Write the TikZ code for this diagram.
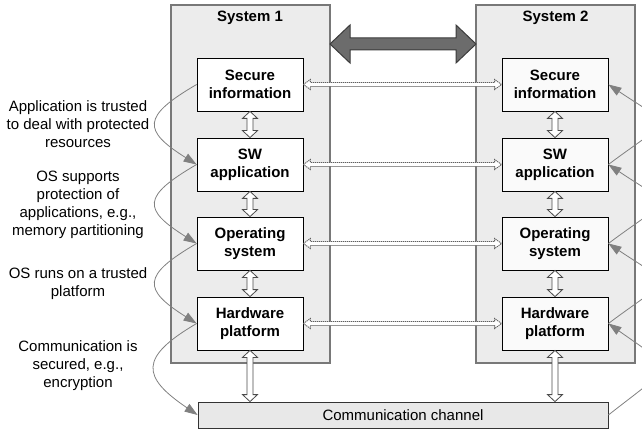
\documentclass[tikz,border=0pt]{standalone}
\usepackage{fontspec}
\setmainfont{Liberation Sans}
\usetikzlibrary{calc,arrows.meta}

\definecolor{panelfill}{RGB}{236,236,236}
\definecolor{panelline}{RGB}{120,120,120}
\definecolor{chanfill}{RGB}{232,232,232}
\definecolor{bigfill}{RGB}{108,108,108}
\definecolor{bigline}{RGB}{60,60,60}
\definecolor{curvegray}{RGB}{128,128,128}
\definecolor{dotgray}{RGB}{95,95,95}

\tikzset{
  txt/.style={font=\fontsize{15}{18}\selectfont, align=center},
  panel/.style={draw=panelline, line width=1.6pt, fill=panelfill,
    minimum width=159pt, minimum height=358pt, inner sep=0pt},
  title/.style={txt, font=\fontsize{15}{18}\selectfont\bfseries},
  inbox/.style={draw=black, line width=0.8pt, fill=white, txt,
    font=\fontsize{15}{18}\selectfont\bfseries,
    minimum width=106pt, minimum height=53pt, inner sep=0pt},
  chan/.style={draw=black!80, line width=0.8pt, fill=chanfill, txt,
    minimum width=410pt, minimum height=26pt, inner sep=0pt},
  % horizontal double block arrow: shaft half-width, head half-width, head length
  hfat/.style n args={3}{to path={let \p1=(\tikztostart), \p2=(\tikztotarget) in
    (\x1,\y1) -- (\x1+#3,\y1+#2) -- (\x1+#3,\y1+#1) -- (\x2-#3,\y1+#1)
    -- (\x2-#3,\y1+#2) -- (\x2,\y1) -- (\x2-#3,\y1-#2) -- (\x2-#3,\y1-#1)
    -- (\x1+#3,\y1-#1) -- (\x1+#3,\y1-#2) -- cycle}},
  % vertical double block arrow, start above target
  vfat/.style n args={3}{to path={let \p1=(\tikztostart), \p2=(\tikztotarget) in
    (\x1,\y1) -- (\x1+#2,\y1-#3) -- (\x1+#1,\y1-#3) -- (\x1+#1,\y2+#3)
    -- (\x1+#2,\y2+#3) -- (\x1,\y2) -- (\x1-#2,\y2+#3) -- (\x1-#1,\y2+#3)
    -- (\x1-#1,\y1-#3) -- (\x1-#2,\y1-#3) -- cycle}},
  link/.style={vfat={3pt}{7.5pt}{7pt}, draw=black!70, line width=0.8pt, fill=white},
  peer/.style={hfat={2pt}{5pt}{7pt}, draw=dotgray, line width=0.9pt,
    dash pattern=on 1.2pt off 0.8pt, fill=white},
  bigarrow/.style={hfat={6pt}{19pt}{20pt}, draw=bigline, line width=1pt, fill=bigfill},
  trust/.style={draw=curvegray, line width=0.8pt,
    -{Triangle[length=13pt, width=9pt, fill=curvegray]}},
}

\begin{document}
\begin{tikzpicture}[x=1pt, y=-1pt]
\useasboundingbox (0,0) rectangle (642,430);
\clip (0,0) rectangle (642,430);

% the two systems
\node[panel] (p1) at (250.5,184) {};
\node[panel] (p2) at (555.5,184) {};
\node[title] (t1) at (250,18) {System 1};
\node[title] (t2) at (555.5,18) {System 2};

% layers of each system
\node[inbox] (s1a) at (250,84.5) {Secure\\information};
\node[inbox] (s1b) at (250,164.5) {SW\\application};
\node[inbox] (s1c) at (250,243.5) {Operating\\system};
\node[inbox] (s1d) at (250,323.5) {Hardware\\platform};
\node[inbox, fill=black!2] (s2a) at (555,84.5) {Secure\\information};
\node[inbox, fill=black!2] (s2b) at (555,164.5) {SW\\application};
\node[inbox, fill=black!2] (s2c) at (555,243.5) {Operating\\system};
\node[inbox, fill=black!2] (s2d) at (555,323.5) {Hardware\\platform};

% communication channel
\node[chan] (ch) at (403,415) {Communication channel};

% big arrow between the systems
\coordinate (bigL) at (330,44);
\coordinate (bigR) at (476,44);
\draw[bigarrow] (bigL) to (bigR);

% peer-to-peer links between layers
\draw[peer] (s1a.east) to (s2a.west);
\draw[peer] (s1b.east) to (s2b.west);
\draw[peer] (s1c.east) to (s2c.west);
\draw[peer] (s1d.east) to (s2d.west);

% links between adjacent layers
\draw[link] (s1a.south) to (s1b.north);
\draw[link] (s1b.south) to (s1c.north);
\draw[link] (s1c.south) to (s1d.north);
\draw[link] (s1d.south) to (s1d.south |- ch.north);
\draw[link] (s2a.south) to (s2b.north);
\draw[link] (s2b.south) to (s2c.north);
\draw[link] (s2c.south) to (s2d.north);
\draw[link] (s2d.south) to (s2d.south |- ch.north);

% trust chain, left side
\draw[trust] (s1a.west) .. controls +(-55,32) and +(-54,-34) .. (s1b.west);
\draw[trust] (s1b.west) .. controls +(-55,32) and +(-54,-34) .. (s1c.west);
\draw[trust] (s1c.west) .. controls +(-55,32) and +(-54,-34) .. (s1d.west);
\draw[trust] (s1d.west) .. controls +(-58,34) and +(-56,-38) .. (ch.west);

% trust chain, right side
\draw[trust] (s2b.east) .. controls +(64,-48) and +(66,44) .. (s2a.east);
\draw[trust] (s2c.east) .. controls +(64,-48) and +(66,44) .. (s2b.east);
\draw[trust] (s2d.east) .. controls +(64,-48) and +(66,44) .. (s2c.east);
\draw[trust] (ch.east) .. controls +(66,-52) and +(68,48) .. (s2d.east);

% explanations
\node[txt] (l1) at (78,124.5) {Application is trusted\\to deal with protected\\resources};
\node[txt] (l2) at (78,205) {OS supports\\protection of\\applications, e.g.,\\memory partitioning};
\node[txt] (l3) at (78,284) {OS runs on a trusted\\platform};
\node[txt] (l4) at (78,366) {Communication is\\secured, e.g.,\\encryption};
\end{tikzpicture}
\end{document}
